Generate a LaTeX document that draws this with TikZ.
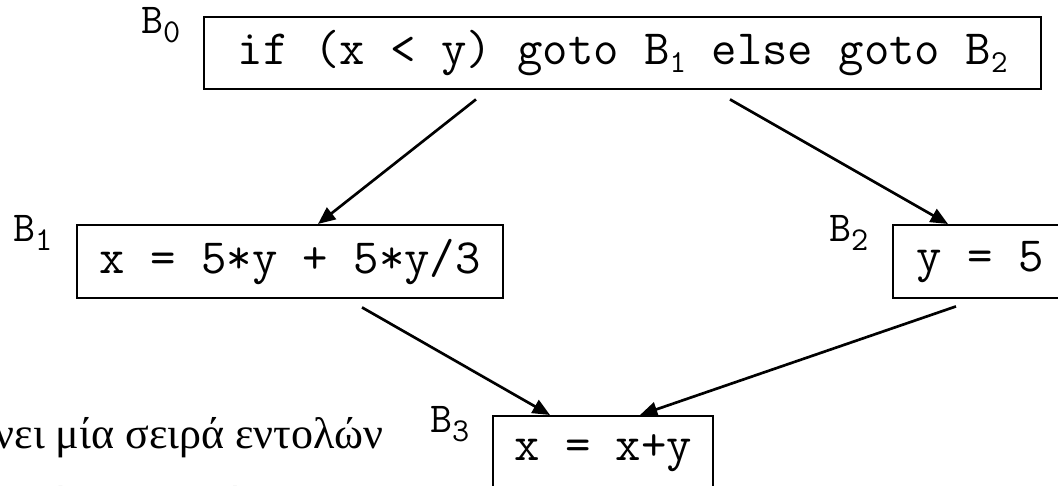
\documentclass[tikz,border=0pt]{standalone}
\usepackage{fontspec}
\setmainfont{Liberation Serif}
\usetikzlibrary{arrows.meta,calc}
\newcommand\boxfont{\ttfamily\fontsize{37}{44}\selectfont}
\newcommand\lblfont{\ttfamily\fontsize{32}{38}\selectfont}
\newcommand\greekfont{\fontsize{33}{40}\selectfont}
\newcommand\bsub[1]{\raisebox{-6pt}{\fontsize{24}{24}\selectfont #1}}
\newcommand\lsub[1]{\raisebox{-7pt}{\fontsize{25}{25}\selectfont #1}}
\tikzset{
  blk/.style={draw, line width=1.8pt, rectangle, inner sep=0pt, font=\boxfont, anchor=north west},
  lbl/.style={font=\lblfont, anchor=base west, inner sep=0pt},
  arr/.style={line width=2pt, -{Triangle[length=13pt,width=11pt]}},
  txt/.style={font=\greekfont, inner sep=0pt},
}
\begin{document}
\begin{tikzpicture}[x=0.75pt, y=-0.75pt]
\useasboundingbox (0,0) rectangle (1058,486);
\clip (0,0) rectangle (1058,486);
\fill[white] (0,0) rectangle (1058,486);
% blocks
\node[blk, minimum width=627.75pt, minimum height=54pt] (b0) at (203,16)
  {if (x < y) goto B\bsub{1} else goto B\bsub{2}};
\node[blk, minimum width=319.5pt, minimum height=54.75pt] (b1) at (76,224)
  {x = 5*y + 5*y/3};
\node[blk, minimum width=130.5pt, minimum height=54.75pt] (b2) at (892,224)
  {y = 5};
\node[blk, minimum width=165pt, minimum height=54.75pt] (b3) at (492,415)
  {x = x+y};
% labels
\node[lbl] (l0) at (141,33) {B\lsub{0}};
\node[lbl] (l1) at (13,241) {B\lsub{1}};
\node[lbl] (l2) at (829,241) {B\lsub{2}};
\node[lbl] (l3) at (430,432) {B\lsub{3}};
% greek text
\node[txt, anchor=base east] (g1) at (384,448) {περιλαμβάνει μία σειρά εντολών};
\node[txt, anchor=base west] (g2) at (48,517) {ένα βασικό block};
% connectors
\coordinate (s1) at ($(b0.south west)+(273,9)$);
\coordinate (e1) at ($(b1.north west)+(242,0)$);
\coordinate (s2) at ($(b0.south west)+(527,9)$);
\coordinate (e2) at ($(b2.north west)+(56,0)$);
\coordinate (s3) at ($(b1.south west)+(286,8)$);
\coordinate (e3) at ($(b3.north west)+(58,0)$);
\coordinate (s4) at ($(b2.south west)+(64,7)$);
\coordinate (e4) at ($(b3.north west)+(148,0)$);
\draw[arr] (s1) -- (e1);
\draw[arr] (s2) -- (e2);
\draw[arr] (s3) -- (e3);
\draw[arr] (s4) -- (e4);
\end{tikzpicture}
\end{document}
